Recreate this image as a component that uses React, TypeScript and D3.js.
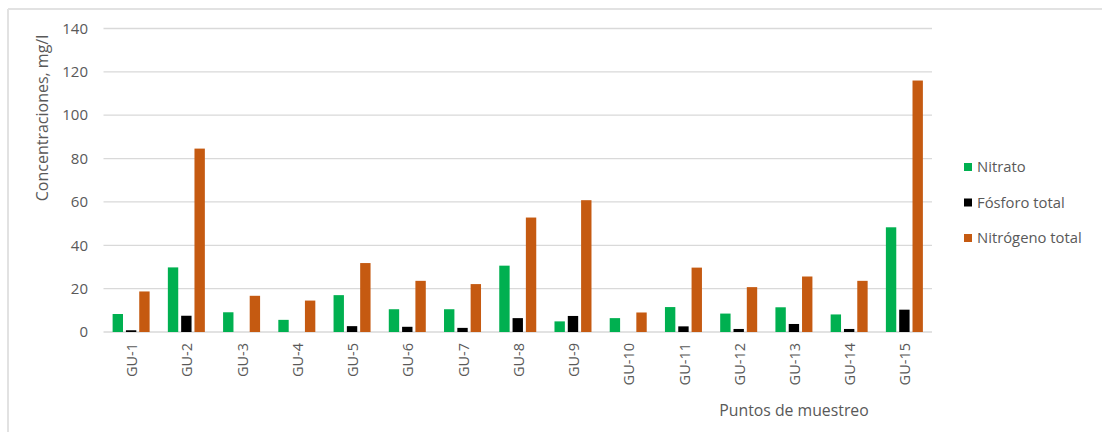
import React from "react";
import * as d3 from "d3";

const categories = ["GU-1","GU-2","GU-3","GU-4","GU-5","GU-6","GU-7","GU-8","GU-9","GU-10","GU-11","GU-12","GU-13","GU-14","GU-15"];
const nitrato = [8.3, 29.8, 9.1, 5.6, 17, 10.5, 10.5, 30.6, 4.9, 6.4, 11.5, 8.5, 11.4, 8.1, 48.3];
const fosforo = [0.8, 7.5, 0, 0, 2.7, 2.4, 1.9, 6.4, 7.4, 0, 2.6, 1.4, 3.7, 1.4, 10.3];
const nitrogeno = [18.7, 84.6, 16.7, 14.5, 31.8, 23.6, 22.1, 52.8, 60.8, 9.0, 29.7, 20.7, 25.6, 23.6, 116];
const yTicks = [0, 20, 40, 60, 80, 100, 120, 140];
const seriesNames = ["Nitrato", "Fósforo total", "Nitrógeno total"];
const seriesColors = ["#00B050", "#000000", "#C55A11"];

const W = 1102, H = 432;
const plot = { left: 103.5, right: 932, top: 28.5, bottom: 332 };
const FONT = "'Open Sans', 'Noto Sans', sans-serif";

export default function App() {
  const series = [nitrato, fosforo, nitrogeno];
  const x = d3.scaleBand<string>().domain(categories).range([plot.left, plot.right]).paddingInner(0).paddingOuter(0);
  const y = d3.scaleLinear().domain([0, 140]).range([plot.bottom, plot.top]);
  const inner = d3.scaleBand<number>().domain([0, 1, 2]).range([0, 37]).paddingInner(0.22);
  const groupOffset = (x.bandwidth() - 37) / 2;
  const textColor = "#595959";

  return (
    <svg width={W} height={H} style={{ position: "absolute", left: 0, top: 0, background: "#fff" }}>
      <line x1={8} x2={W} y1={9} y2={9} stroke="#e2e2e2" strokeWidth={2} />
      <line x1={8} x2={8} y1={9} y2={H} stroke="#e2e2e2" strokeWidth={2} />
      {yTicks.map((t) => (
        <g key={t}>
          <line x1={plot.left} x2={plot.right} y1={y(t)} y2={y(t)} stroke="#d9d9d9" strokeWidth={1.3} />
          <text x={88} y={y(t)} dy="0.35em" textAnchor="end" fontFamily={FONT} fontSize={15} fill={textColor}>{t}</text>
        </g>
      ))}
      {categories.map((c, i) => (
        <g key={c}>
          {series.map((s, k) => {
            const v = s[i];
            if (v <= 0) return null;
            return (
              <rect key={k}
                x={(x(c) as number) + groupOffset + (inner(k) as number)}
                y={y(v)}
                width={inner.bandwidth()}
                height={y(0) - y(v)}
                fill={seriesColors[k]} />
            );
          })}
          <text transform={`translate(${(x(c) as number) + x.bandwidth() / 2 + 1},343) rotate(-90)`}
            textAnchor="end" dy="0.35em" fontFamily={FONT} fontSize={14.5} fill={textColor}>{c}</text>
        </g>
      ))}
      <text transform={`translate(42,118) rotate(-90)`} textAnchor="middle" dy="0.35em" fontFamily={FONT} fontSize={16} fill={textColor}>Concentraciones, mg/l</text>
      <text x={794} y={410} dy="0.35em" textAnchor="middle" fontFamily={FONT} fontSize={15.8} fill={textColor}>Puntos de muestreo</text>
      {seriesNames.map((n, k) => (
        <g key={n} transform={`translate(964,${167 + k * 35.5})`}>
          <rect x={0} y={-4} width={8} height={8} fill={seriesColors[k]} />
          <text x={13} y={0} dy="0.35em" fontFamily={FONT} fontSize={14.8} fill={textColor}>{n}</text>
        </g>
      ))}
    </svg>
  );
}
